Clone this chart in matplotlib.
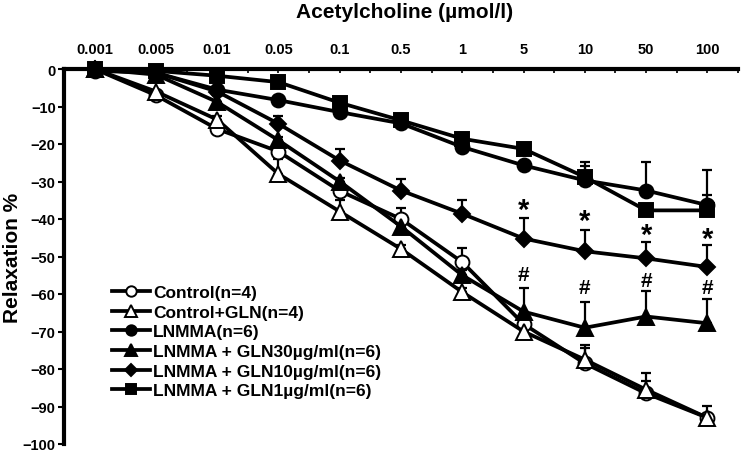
import matplotlib
matplotlib.use("Agg")
import matplotlib.pyplot as plt
from matplotlib.ticker import FixedLocator
import numpy as np

plt.rcParams['font.family'] = ['Liberation Sans', 'DejaVu Sans']
plt.rcParams['font.weight'] = 'bold'

concentrations = ['0.001', '0.005', '0.01', '0.05', '0.1', '0.5', '1', '5', '10', '50', '100']

control = [0, -7, -16, -22, -32.5, -40, -51.5, -68, -78.5, -86.5, -93]
control_err = [0, 1, 1, 3, 2, 3, 3.7, 2, 5, 5.5, 3.2]
control_gln = [0, -6, -13.5, -28, -38, -48, -59.5, -70, -77.5, -85.5, -93]
control_gln_err = [0, 0, 1, 4, 3, 1, 1, 2, 3, 2.3, 1]
lnmma = [-0.5, -1, -5.5, -8.3, -11.5, -14.5, -20.8, -25.7, -29.7, -32.4, -36.3]
lnmma_err = [0, 0, 0, 1, 1, 2.5, 1, 1, 5, 7.6, 9.3]
gln30 = [0, -1.5, -8.8, -19, -30, -42, -55, -64.7, -69, -66, -67.8]
gln30_err = [0, 0, 0, 1, 1, 1, 1.5, 6.2, 7, 6.8, 6.6]
gln10 = [0, -1, -6, -14.6, -24.4, -32.4, -38.6, -45.2, -48.6, -50.5, -52.8]
gln10_err = [0, 0, 0, 2, 3, 3, 3.8, 5.5, 5.8, 4.4, 5.8]
gln1 = [0, -0.5, -1.8, -3.5, -9, -13.7, -18.6, -21.3, -28.8, -37.7, -37.7]
gln1_err = [0, 0, 0, 0, 0, 1, 1, 1.5, 3, 1, 4]

labels = ['Control(n=4)', 'Control+GLN(n=4)', 'LNMMA(n=6)',
          'LNMMA + GLN30µg/ml(n=6)', 'LNMMA + GLN10µg/ml(n=6)', 'LNMMA + GLN1µg/ml(n=6)']

star_idx = [7, 8, 9, 10]
star_y = [-36.5, -39.6, -43.2, -44.3]
hash_idx = [7, 8, 9, 10]
hash_y = [-54.7, -58.3, -56.5, -58.3]

W, H = 747, 456
fig = plt.figure(figsize=(W / 100, H / 100), dpi=100)
left, right, top, bottom = 64, 738, 70, 445
ax = fig.add_axes([left / W, 1 - bottom / H, (right - left) / W, (bottom - top) / H])

x = np.arange(len(concentrations))

series = [
    (control, control_err, 'o', 'white', 10),
    (control_gln, control_gln_err, '^', 'white', 11),
    (lnmma, lnmma_err, 'o', 'black', 10),
    (gln30, gln30_err, '^', 'black', 11),
    (gln10, gln10_err, 'D', 'black', 8.5),
    (gln1, gln1_err, 's', 'black', 10),
]

handles = []
for (vals, err, mk, fc, ms), lab in zip(series, labels):
    vals = np.array(vals)
    err = np.array(err)
    ax.errorbar(x, vals, yerr=[np.zeros_like(err), err], fmt='none', ecolor='black',
                elinewidth=1.6, capsize=3.5, capthick=1.6, clip_on=False, zorder=2)
    ln, = ax.plot(x, vals, color='black', lw=2.7, marker=mk, markersize=ms,
                  markerfacecolor=fc, markeredgecolor='black', markeredgewidth=1.4,
                  clip_on=False, zorder=3)
    handles.append(ln)

for i, yv in zip(star_idx, star_y):
    ax.text(i, yv - 1.0, '*', ha='center', va='center', fontsize=21, fontweight='bold')
for i, yv in zip(hash_idx, hash_y):
    ax.text(i, yv, '#', ha='center', va='center', fontsize=15, fontweight='bold')

ax.set_xlim(-0.5, 10.5)
ax.set_ylim(-100, 0)
ax.xaxis.tick_top()
ax.set_xticks(x)
ax.set_xticklabels(concentrations)
ax.xaxis.set_minor_locator(FixedLocator(np.arange(-0.5, 10.6, 1.0)))
ax.tick_params(axis='x', which='both', direction='in', length=3, width=1.2, pad=9,
               labelsize=10.5)
ax.set_yticks(np.arange(-100, 1, 10))
ax.tick_params(axis='y', direction='out', length=4, width=1.5, labelsize=10.5, pad=2)
for lab in ax.get_xticklabels() + ax.get_yticklabels():
    lab.set_fontweight('bold')

ax.spines['right'].set_visible(False)
ax.spines['bottom'].set_visible(False)
ax.spines['top'].set_linewidth(3)
ax.spines['left'].set_linewidth(3)
ax.patch.set_alpha(0)

fig.text(405 / W, 1 - 13 / H, 'Acetylcholine (µmol/l)', ha='center', va='center',
         fontsize=15, fontweight='bold')
fig.text(13 / W, 1 - 258 / H, 'Relaxation %', ha='center', va='center', rotation=90,
         fontsize=15, fontweight='bold')

leg = fig.legend(handles, labels, loc='upper left',
                 bbox_to_anchor=(112 / W, 1 - 286 / H), frameon=False,
                 prop={'weight': 'bold', 'size': 12.5}, handlelength=2.2,
                 handletextpad=0.15, labelspacing=0.26, markerscale=0.75,
                 borderpad=0, borderaxespad=0)

fig.savefig('out.png', dpi=100)
